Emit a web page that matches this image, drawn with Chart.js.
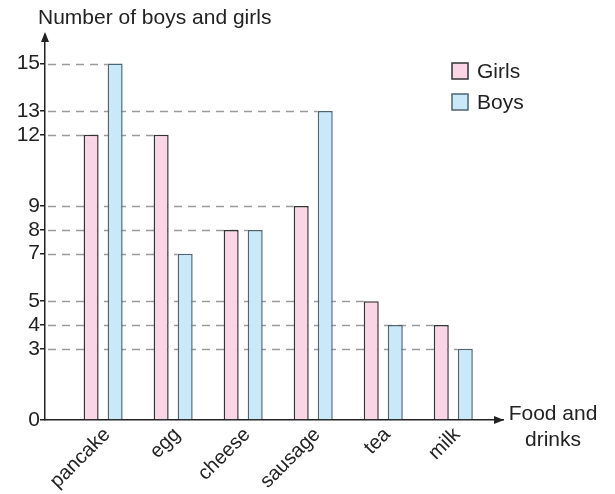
<!DOCTYPE html>
<html>
<head>
<meta charset="utf-8">
<script src="https://cdn.jsdelivr.net/npm/chart.js@4"></script>
<style>
  html, body { margin: 0; padding: 0; background: #fff; }
  #wrap { width: 615px; height: 494px; }
</style>
</head>
<body>
<div id="wrap"><canvas id="food"></canvas></div>
<script>
const categories = ['pancake', 'egg', 'cheese', 'sausage', 'tea', 'milk'];
const girls = [12, 12, 8, 9, 5, 4];
const boys = [15, 7, 8, 13, 4, 3];
const yTicks = [0, 3, 4, 5, 7, 8, 9, 12, 13, 15];

const FONT = "'Liberation Sans', Arial, sans-serif";
const INK = '#222';

// dashed lines from the axis to the last bar reaching each tick value
const guideLines = {
    id: 'guideLines',
    beforeDatasetsDraw(chart) {
        const ctx = chart.ctx;
        const y = chart.scales.y;
        const left = chart.chartArea.left;
        ctx.save();
        ctx.strokeStyle = '#9a9a9a';
        ctx.lineWidth = 1.5;
        ctx.setLineDash([8, 6]);
        yTicks.forEach(v => {
            if (v === 0) return;
            let end = null;
            chart.data.datasets.forEach((ds, d) => {
                const meta = chart.getDatasetMeta(d);
                ds.data.forEach((pt, i) => {
                    if (pt.y === v) {
                        const bar = meta.data[i];
                        const x = bar.x - bar.width / 2;
                        if (end === null || x > end) end = x;
                    }
                });
            });
            if (end === null) return;
            const py = Math.round(y.getPixelForValue(v)) + 0.5;
            ctx.beginPath();
            ctx.moveTo(left + 3, py);
            ctx.lineTo(end, py);
            ctx.stroke();
        });
        ctx.restore();
    }
};

// arrows, axis titles and legend
const decorations = {
    id: 'decorations',
    afterDraw(chart) {
        const ctx = chart.ctx;
        const { left, right, top, bottom } = chart.chartArea;
        ctx.save();
        ctx.fillStyle = INK;
        // y arrow
        ctx.beginPath();
        ctx.moveTo(left, top - 3);
        ctx.lineTo(left - 4, top + 7);
        ctx.lineTo(left + 4, top + 7);
        ctx.closePath();
        ctx.fill();
        // x arrow
        ctx.beginPath();
        ctx.moveTo(right + 1, bottom);
        ctx.lineTo(right - 9, bottom - 4);
        ctx.lineTo(right - 9, bottom + 4);
        ctx.closePath();
        ctx.fill();

        ctx.font = '21px ' + FONT;
        ctx.textBaseline = 'alphabetic';
        ctx.textAlign = 'left';
        ctx.fillText('Number of boys and girls', 38, 24);
        ctx.textAlign = 'center';
        ctx.fillText('Food and', 553, 420);
        ctx.fillText('drinks', 553, 446);

        // legend
        ctx.textAlign = 'left';
        ctx.textBaseline = 'middle';
        chart.data.datasets.forEach((ds, i) => {
            const by = 63 + i * 31;
            ctx.fillStyle = ds.backgroundColor;
            ctx.fillRect(452, by, 16, 16);
            ctx.strokeStyle = ds.borderColor;
            ctx.lineWidth = 1.5;
            ctx.strokeRect(452, by, 16, 16);
            ctx.fillStyle = INK;
            ctx.fillText(ds.label, 477, by + 9);
        });
        ctx.restore();
    }
};

new Chart('food', {
    type: 'bar',
    data: {
        datasets: [
            {
                label: 'Girls',
                data: girls.map((v, i) => ({ x: i, y: v })),
                backgroundColor: '#f9d5e6',
                borderColor: '#333',
                borderWidth: 1.5,
                categoryPercentage: 0.686,
                barPercentage: 0.625,
            },
            {
                label: 'Boys',
                data: boys.map((v, i) => ({ x: i, y: v })),
                backgroundColor: '#c9e9f8',
                borderColor: '#4f6470',
                borderWidth: 1.5,
                categoryPercentage: 0.686,
                barPercentage: 0.625,
            }
        ]
    },
    options: {
        responsive: true,
        maintainAspectRatio: false,
        animation: false,
        layout: { padding: { top: 35, right: 112, left: 0, bottom: 0 } },
        plugins: {
            legend: { display: false },
            tooltip: { enabled: false },
        },
        scales: {
            x: {
                type: 'linear',
                offset: false,
                min: -0.83,
                max: 5.71,
                afterBuildTicks: scale => {
                    scale.ticks = categories.map((c, i) => ({ value: i }));
                },
                afterFit: scale => { scale.height = 74; },
                grid: { display: false },
                border: { display: true, color: INK, width: 1.5 },
                ticks: {
                    minRotation: 45,
                    maxRotation: 45,
                    autoSkip: false,
                    padding: -5,
                    labelOffset: 4,
                    color: INK,
                    font: { family: FONT, size: 20 },
                    callback: value => categories[value],
                }
            },
            y: {
                min: 0,
                max: 16.2,
                afterBuildTicks: scale => {
                    scale.ticks = yTicks.map(v => ({ value: v }));
                },
                afterFit: scale => { scale.width = 45; },
                grid: { drawOnChartArea: false, drawTicks: true, tickLength: 5, color: INK, lineWidth: 1.5 },
                border: { display: true, color: INK, width: 1.5 },
                ticks: {
                    padding: 0,
                    color: INK,
                    font: { family: FONT, size: 21 },
                }
            }
        }
    },
    plugins: [guideLines, decorations]
});
</script>
</body>
</html>
